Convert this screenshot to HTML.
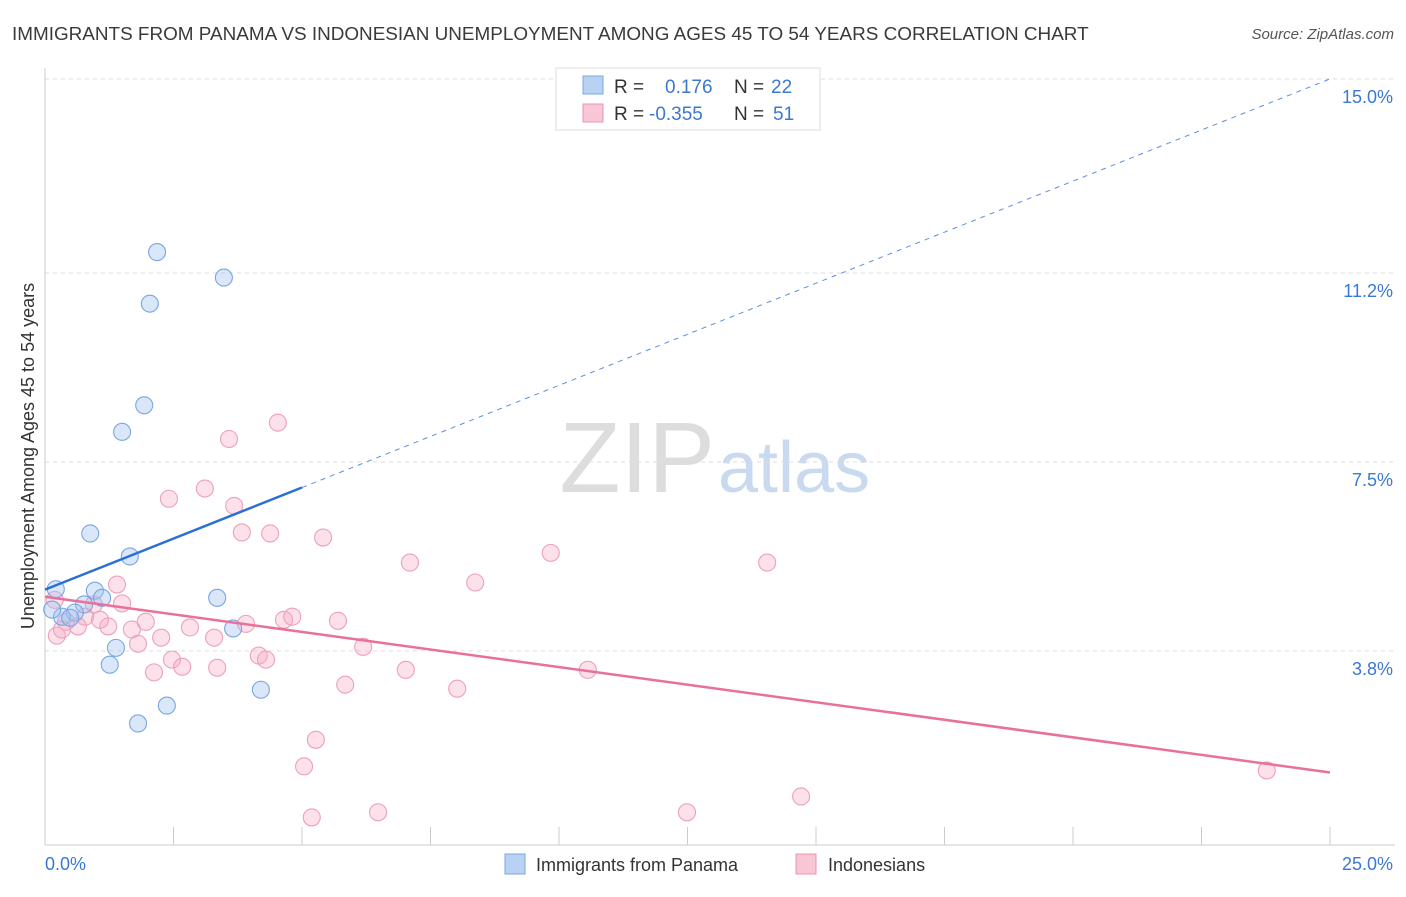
<!DOCTYPE html>
<html><head><meta charset="utf-8"><style>
body{margin:0;background:#fff;font-family:"Liberation Sans",sans-serif;}
svg text{font-family:"Liberation Sans",sans-serif;}
</style></head><body>
<svg id="chart" width="1406" height="892">
<text x="12" y="40" font-size="18.9" fill="#3a3a3a">IMMIGRANTS FROM PANAMA VS INDONESIAN UNEMPLOYMENT AMONG AGES 45 TO 54 YEARS CORRELATION CHART</text>
<text x="1394" y="39" font-size="15" fill="#555" font-style="italic" text-anchor="end">Source: ZipAtlas.com</text>
<text x="715" y="492" font-size="100" fill="#ddd" text-anchor="end" font-family="Liberation Serif">ZIP</text>
<text x="718" y="492" font-size="72" fill="#c9d9ef">atlas</text>
<g id="grid"></g><g id="axes"></g><g id="pts"></g><g id="lines"></g>
<text transform="translate(34,456) rotate(-90)" font-size="18" fill="#333" text-anchor="middle">Unemployment Among Ages 45 to 54 years</text>
<text x="45" y="870" font-size="18" fill="#3a78d4">0.0%</text>
<text x="1393" y="870" font-size="18" fill="#3a78d4" text-anchor="end">25.0%</text>
<g>
<rect x="556" y="68" width="264" height="62" fill="#fff" stroke="#ddd"/>
<rect x="583" y="76" width="20" height="18" fill="#b8d2f3" stroke="#7ba7e0"/>
<rect x="583" y="104" width="20" height="18" fill="#f9c6d5" stroke="#eb93b0"/>
<text x="614" y="93" font-size="19" fill="#333">R =</text><text x="665" y="93" font-size="19" fill="#3a78d4">0.176</text>
<text x="734" y="93" font-size="19" fill="#333">N =</text><text x="771" y="93" font-size="19" fill="#3a78d4">22</text>
<text x="614" y="120" font-size="19" fill="#333">R =</text><text x="649" y="120" font-size="19" fill="#3a78d4">-0.355</text>
<text x="734" y="120" font-size="19" fill="#333">N =</text><text x="773" y="120" font-size="19" fill="#3a78d4">51</text>
</g>
<g>
<rect x="505" y="854" width="20" height="20" fill="#b8d2f3" stroke="#7ba7e0"/>
<text x="536" y="871" font-size="18" fill="#333">Immigrants from Panama</text>
<rect x="796" y="854" width="20" height="20" fill="#f9c6d5" stroke="#eb93b0"/>
<text x="828" y="871" font-size="18" fill="#333">Indonesians</text>
</g>
</svg>
<script>
const yTicks=[3.8,7.5,11.2,15.0];
const yTickLabels=["3.8%","7.5%","11.2%","15.0%"];
const blueX=[2.18,3.48,2.04,1.93,1.50,0.88,1.65,0.21,0.97,1.11,3.35,0.76,0.58,0.33,3.66,1.38,1.26,4.20,2.37,1.81,0.14,0.49];
const blueY=[11.61,11.11,10.60,8.61,8.09,6.10,5.65,5.01,4.98,4.84,4.84,4.71,4.55,4.47,4.24,3.86,3.53,3.04,2.73,2.38,4.61,4.45];
const pinkX=[4.53,3.58,2.41,3.11,3.68,3.83,4.38,5.41,9.84,7.10,14.05,8.37,1.40,0.19,1.50,0.95,0.78,0.41,0.64,1.23,1.69,1.96,2.82,3.29,2.26,3.91,4.65,4.81,5.70,6.19,4.16,4.30,2.47,2.67,2.12,3.35,7.02,10.56,5.84,8.02,5.27,5.04,23.77,14.71,6.48,12.49,5.19,0.23,1.07,1.81,0.33];
const pinkY=[8.27,7.95,6.78,6.98,6.64,6.12,6.10,6.02,5.72,5.53,5.53,5.14,5.10,4.80,4.73,4.71,4.47,4.37,4.28,4.28,4.22,4.37,4.26,4.06,4.06,4.33,4.41,4.47,4.39,3.88,3.71,3.63,3.63,3.49,3.38,3.47,3.43,3.43,3.14,3.06,2.06,1.54,1.46,0.95,0.64,0.64,0.54,4.10,4.41,3.94,4.22];
const blueTrend=[5.0,15.0];
const pinkTrend=[4.86,1.42];
const NS="http://www.w3.org/2000/svg";
const sx=v=>45+v*51.4, sy=v=>845-v*51.07;
function mk(t,a,p){const e=document.createElementNS(NS,t);for(const k in a)e.setAttribute(k,a[k]);p.appendChild(e);return e;}
const grid=document.getElementById('grid'),axes=document.getElementById('axes'),pts=document.getElementById('pts'),lines=document.getElementById('lines');
yTicks.forEach((v,i)=>{
 const l=mk('line',{x1:45,x2:1395,y1:sy(v),y2:sy(v),stroke:'#ddd','stroke-dasharray':'4,4'},grid);
 
 
 const t=mk('text',{x:1393,y:sy(v)+24,'font-size':18,fill:'#3a78d4','text-anchor':'end'},axes);t.textContent=yTickLabels[i];
 
 
});
mk('line',{x1:45,x2:45,y1:68,y2:845,stroke:'#ccc'},axes);
mk('line',{x1:45,x2:1395,y1:845,y2:845,stroke:'#ccc'},axes);
for(let i=0;i<=10;i++){const t=mk('line',{x1:sx(i*2.5),x2:sx(i*2.5),y1:827,y2:845,stroke:'#ccc'},axes);
 
 }
pinkX.forEach((x,i)=>{const c=mk('circle',{cx:sx(x),cy:sy(pinkY[i]),r:8.5,fill:'rgba(245,170,195,0.35)',stroke:'#eda0b9','stroke-width':1.1},pts);
 
 });
blueX.forEach((x,i)=>{const c=mk('circle',{cx:sx(x),cy:sy(blueY[i]),r:8.5,fill:'rgba(160,195,240,0.4)',stroke:'#77a6e2','stroke-width':1.1},pts);
 
 });
const b5=blueTrend[0]+(blueTrend[1]-blueTrend[0])*5/25;
const l1=mk('line',{x1:sx(0),y1:sy(blueTrend[0]),x2:sx(5),y2:sy(b5),stroke:'#2a6fd6','stroke-width':2.5},lines);


const l2=mk('line',{x1:sx(5),y1:sy(b5),x2:sx(25),y2:sy(blueTrend[1]),stroke:'#5b8fdc','stroke-width':1,'stroke-dasharray':'5,5'},lines);


const l3=mk('line',{x1:sx(0),y1:sy(pinkTrend[0]),x2:sx(25),y2:sy(pinkTrend[1]),stroke:'#e8709a','stroke-width':2.5},lines);


</script>
</body></html>
